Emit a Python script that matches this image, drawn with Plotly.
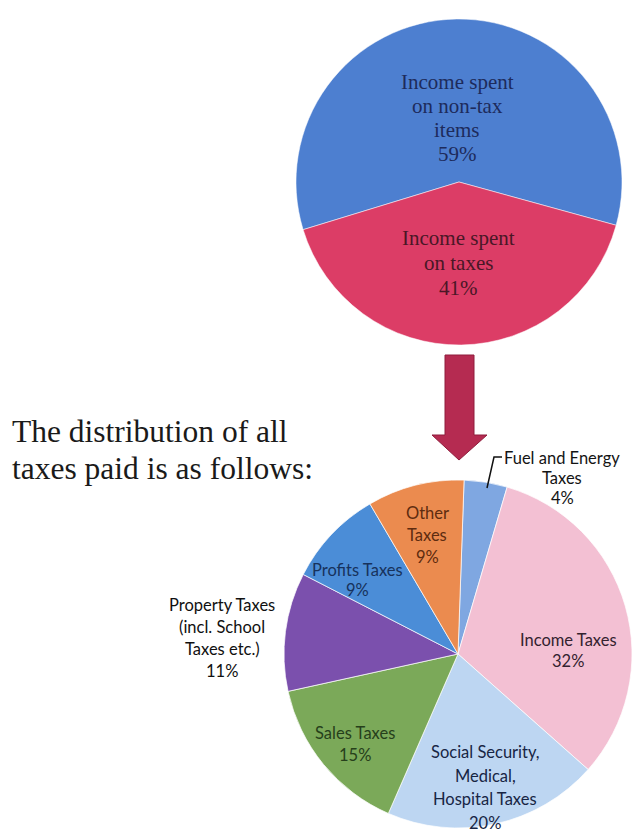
import plotly.graph_objects as go

# ---- data -------------------------------------------------------------
income_parts = ["Income spent<br>on non-tax<br>items", "Income spent<br>on taxes"]
income_shares = [59, 41]
income_colors = ["#4d7fd0", "#dc3d66"]
income_text_colors = ["#1d2b5c", "#4a1726"]

tax_categories = [
    "Fuel and Energy<br>Taxes",
    "Income Taxes",
    "Social Security,<br>Medical,<br>Hospital Taxes",
    "Sales Taxes",
    "Property Taxes<br>(incl. School<br>Taxes etc.)",
    "Profits Taxes",
    "Other<br>Taxes",
]
tax_shares = [4, 32, 20, 15, 11, 9, 9]
tax_colors = ["#7fa7e1", "#f3c0d3", "#bdd6f2", "#7ba959", "#7b50ad", "#4b8dd7", "#eb8b4f"]
tax_text_colors = ["#141414", "#33222f", "#172544", "#263f1b", "#101010", "#17325c", "#5e2c10"]

W, H = 634, 835

fig = go.Figure()

# upper pie: share of income spent on taxes
fig.add_trace(go.Pie(
    labels=income_parts, values=income_shares, sort=False,
    direction="clockwise", rotation=253,
    marker=dict(colors=income_colors, line=dict(color="rgba(255,255,255,0.5)", width=1)),
    textinfo="none", hoverinfo="label+percent", showlegend=False,
    domain=dict(x=[296 / W, 622 / W], y=[1 - 345 / H, 1 - 19 / H]),
))

# lower pie: breakdown of taxes
fig.add_trace(go.Pie(
    labels=tax_categories, values=tax_shares, sort=False,
    direction="clockwise", rotation=2,
    marker=dict(colors=tax_colors, line=dict(color="rgba(255,255,255,0.7)", width=1)),
    textinfo="none", hoverinfo="label+percent", showlegend=False,
    domain=dict(x=[284 / W, 632 / W], y=[1 - 828 / H, 1 - 480 / H]),
))

# pixel-like overlay axes for labels and the arrow
fig.update_xaxes(range=[0, W], visible=False, fixedrange=True)
fig.update_yaxes(range=[H, 0], visible=False, fixedrange=True)


def add_label(lines, x, y0, step, size, color, family, anchor="center"):
    for i, line in enumerate(lines):
        fig.add_annotation(
            x=x, y=y0 + i * step, xref="x", yref="y", text=line, showarrow=False,
            font=dict(size=size, color=color, family=family),
            xanchor=anchor, yanchor="middle",
        )


serif = "Liberation Serif, Times New Roman, serif"
sans = "Lato, Open Sans, sans-serif"

# upper pie labels
top_pos = [(457, 82, 24), (458, 238, 25)]
for name, val, col, (x, y, s) in zip(income_parts, income_shares, income_text_colors, top_pos):
    add_label(name.split("<br>") + [f"{val}%"], x, y, s, 21, col, serif)

# lower pie labels
bottom_pos = [
    (562, 458, 20),
    (568, 640, 21),
    (485, 752, 23.5),
    (355, 733, 22),
    (222, 605, 22),
    (357, 570, 20),
    (427, 513, 22),
]
for name, val, col, (x, y, s) in zip(tax_categories, tax_shares, tax_text_colors, bottom_pos):
    add_label(name.split("<br>") + [f"{val}%"], x, y, s, 16.5, col, sans)

# leader line to the small fuel slice
fig.add_shape(type="path", xref="x", yref="y",
              path="M 502 457 L 494 457 L 487 488",
              line=dict(color="#111111", width=1.5))

# downward arrow between the two pies
fig.add_shape(type="path", xref="x", yref="y",
              path="M 445 355 L 474 355 L 474 435 L 487 435 L 459 460 L 432 435 L 445 435 Z",
              fillcolor="#b52b51", line=dict(color="#8f1d3c", width=1))

# side caption
add_label(["The distribution of all", "taxes paid is as follows:"], 10, 431, 37, 31.5,
          "#1a1a1a", serif, anchor="left")

fig.update_layout(
    width=W, height=H,
    margin=dict(l=0, r=0, t=0, b=0),
    paper_bgcolor="white", plot_bgcolor="white",
)

fig.write_html("out.html")
